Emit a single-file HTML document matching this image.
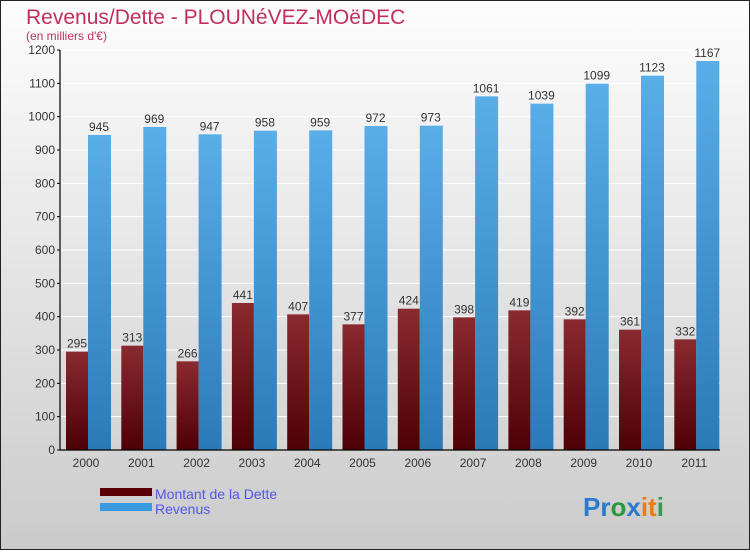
<!DOCTYPE html>
<html><head><meta charset="utf-8"><style>
body{margin:0}
svg text{font-family:"Liberation Sans",sans-serif}
</style></head><body>
<svg width="750" height="550" xmlns="http://www.w3.org/2000/svg">
<defs>
<linearGradient id="bg" x1="0" y1="0" x2="0" y2="1"><stop offset="0" stop-color="#fdfdfd"/><stop offset="1" stop-color="#cbcbcb"/></linearGradient>
<linearGradient id="gd" x1="0" y1="0" x2="0" y2="1"><stop offset="0" stop-color="#8a2a30"/><stop offset="1" stop-color="#4e0005"/></linearGradient>
<linearGradient id="gr" x1="0" y1="0" x2="0" y2="1"><stop offset="0" stop-color="#5aaee8"/><stop offset="1" stop-color="#2a7ab8"/></linearGradient>
</defs>
<rect x="0.5" y="0.5" width="749" height="549" fill="url(#bg)" stroke="#222"/>
<text x="26" y="24" font-size="21" fill="#c0305a">Revenus/Dette - PLOUNéVEZ-MOëDEC</text>
<text x="26" y="40" font-size="12" fill="#c0305a">(en milliers d'€)</text>
<g id="grid"></g><g id="bars"></g><g id="axes"></g>
<rect x="100" y="488" width="52" height="8" fill="#5a0005"/>
<rect x="100" y="503" width="52" height="8" fill="#3a9ae0"/>
<text x="155" y="499" font-size="14" fill="#5555ee">Montant de la Dette</text>
<text x="155" y="514" font-size="14" fill="#5555ee">Revenus</text>
<text x="583" y="516" font-size="26" font-weight="bold"><tspan fill="#2a7ad0">Pr</tspan><tspan fill="#2a9a3a">o</tspan><tspan fill="#2a7ad0">x</tspan><tspan fill="#f07a10">it</tspan><tspan fill="#2aa04a">i</tspan></text>
</svg>
<script>
const years=["2000","2001","2002","2003","2004","2005","2006","2007","2008","2009","2010","2011"];
const dette=[295,313,266,441,407,377,424,398,419,392,361,332];
const revenus=[945,969,947,958,959,972,973,1061,1039,1099,1123,1167];
const yTicks=[0,100,200,300,400,500,600,700,800,900,1000,1100,1200];
const NS="http://www.w3.org/2000/svg";
const y=v=>450-v*400/1200;
const cx=i=>88+i*55.3;
function mk(tag,attrs,parent,txt){const e=document.createElementNS(NS,tag);for(const k in attrs)e.setAttribute(k,attrs[k]);if(txt!==undefined)e.textContent=txt;document.getElementById(parent).appendChild(e);return e;}
yTicks.forEach(t=>{
 const g=mk('line',{x1:60,x2:720,y1:y(t),y2:y(t),stroke:'#fff','stroke-width':1},'grid');
 
 
 const tk=mk('line',{x1:57,x2:60,y1:y(t),y2:y(t),stroke:'#000'},'axes');
 
 
 const l=mk('text',{x:55,y:y(t)+4,'font-size':12,fill:'#333','text-anchor':'end'},'axes',t);
 
 
});
years.forEach((yr,i)=>{
 const c=cx(i);
 const b1=mk('rect',{x:c-22,y:y(dette[i]),width:22,height:450-y(dette[i]),fill:'url(#gd)'},'bars');
 
 
 const b2=mk('rect',{x:c,y:y(revenus[i]),width:23,height:450-y(revenus[i]),fill:'url(#gr)'},'bars');
 
 
 const v1=mk('text',{x:c-11,y:y(dette[i])-4,'font-size':12,fill:'#333','text-anchor':'middle'},'bars',dette[i]);
 
 
 const v2=mk('text',{x:c+11,y:y(revenus[i])-4,'font-size':12,fill:'#333','text-anchor':'middle'},'bars',revenus[i]);
 
 
 const xl=mk('text',{x:c-2,y:467,'font-size':12,fill:'#333','text-anchor':'middle'},'axes',yr);
 
 
});
const ya=mk('line',{x1:60,x2:60,y1:50,y2:450,stroke:'#000','stroke-width':1.2},'axes');


const xa=mk('line',{x1:60,x2:720,y1:450,y2:450,stroke:'#000','stroke-width':1.2},'axes');


</script>
</body></html>
